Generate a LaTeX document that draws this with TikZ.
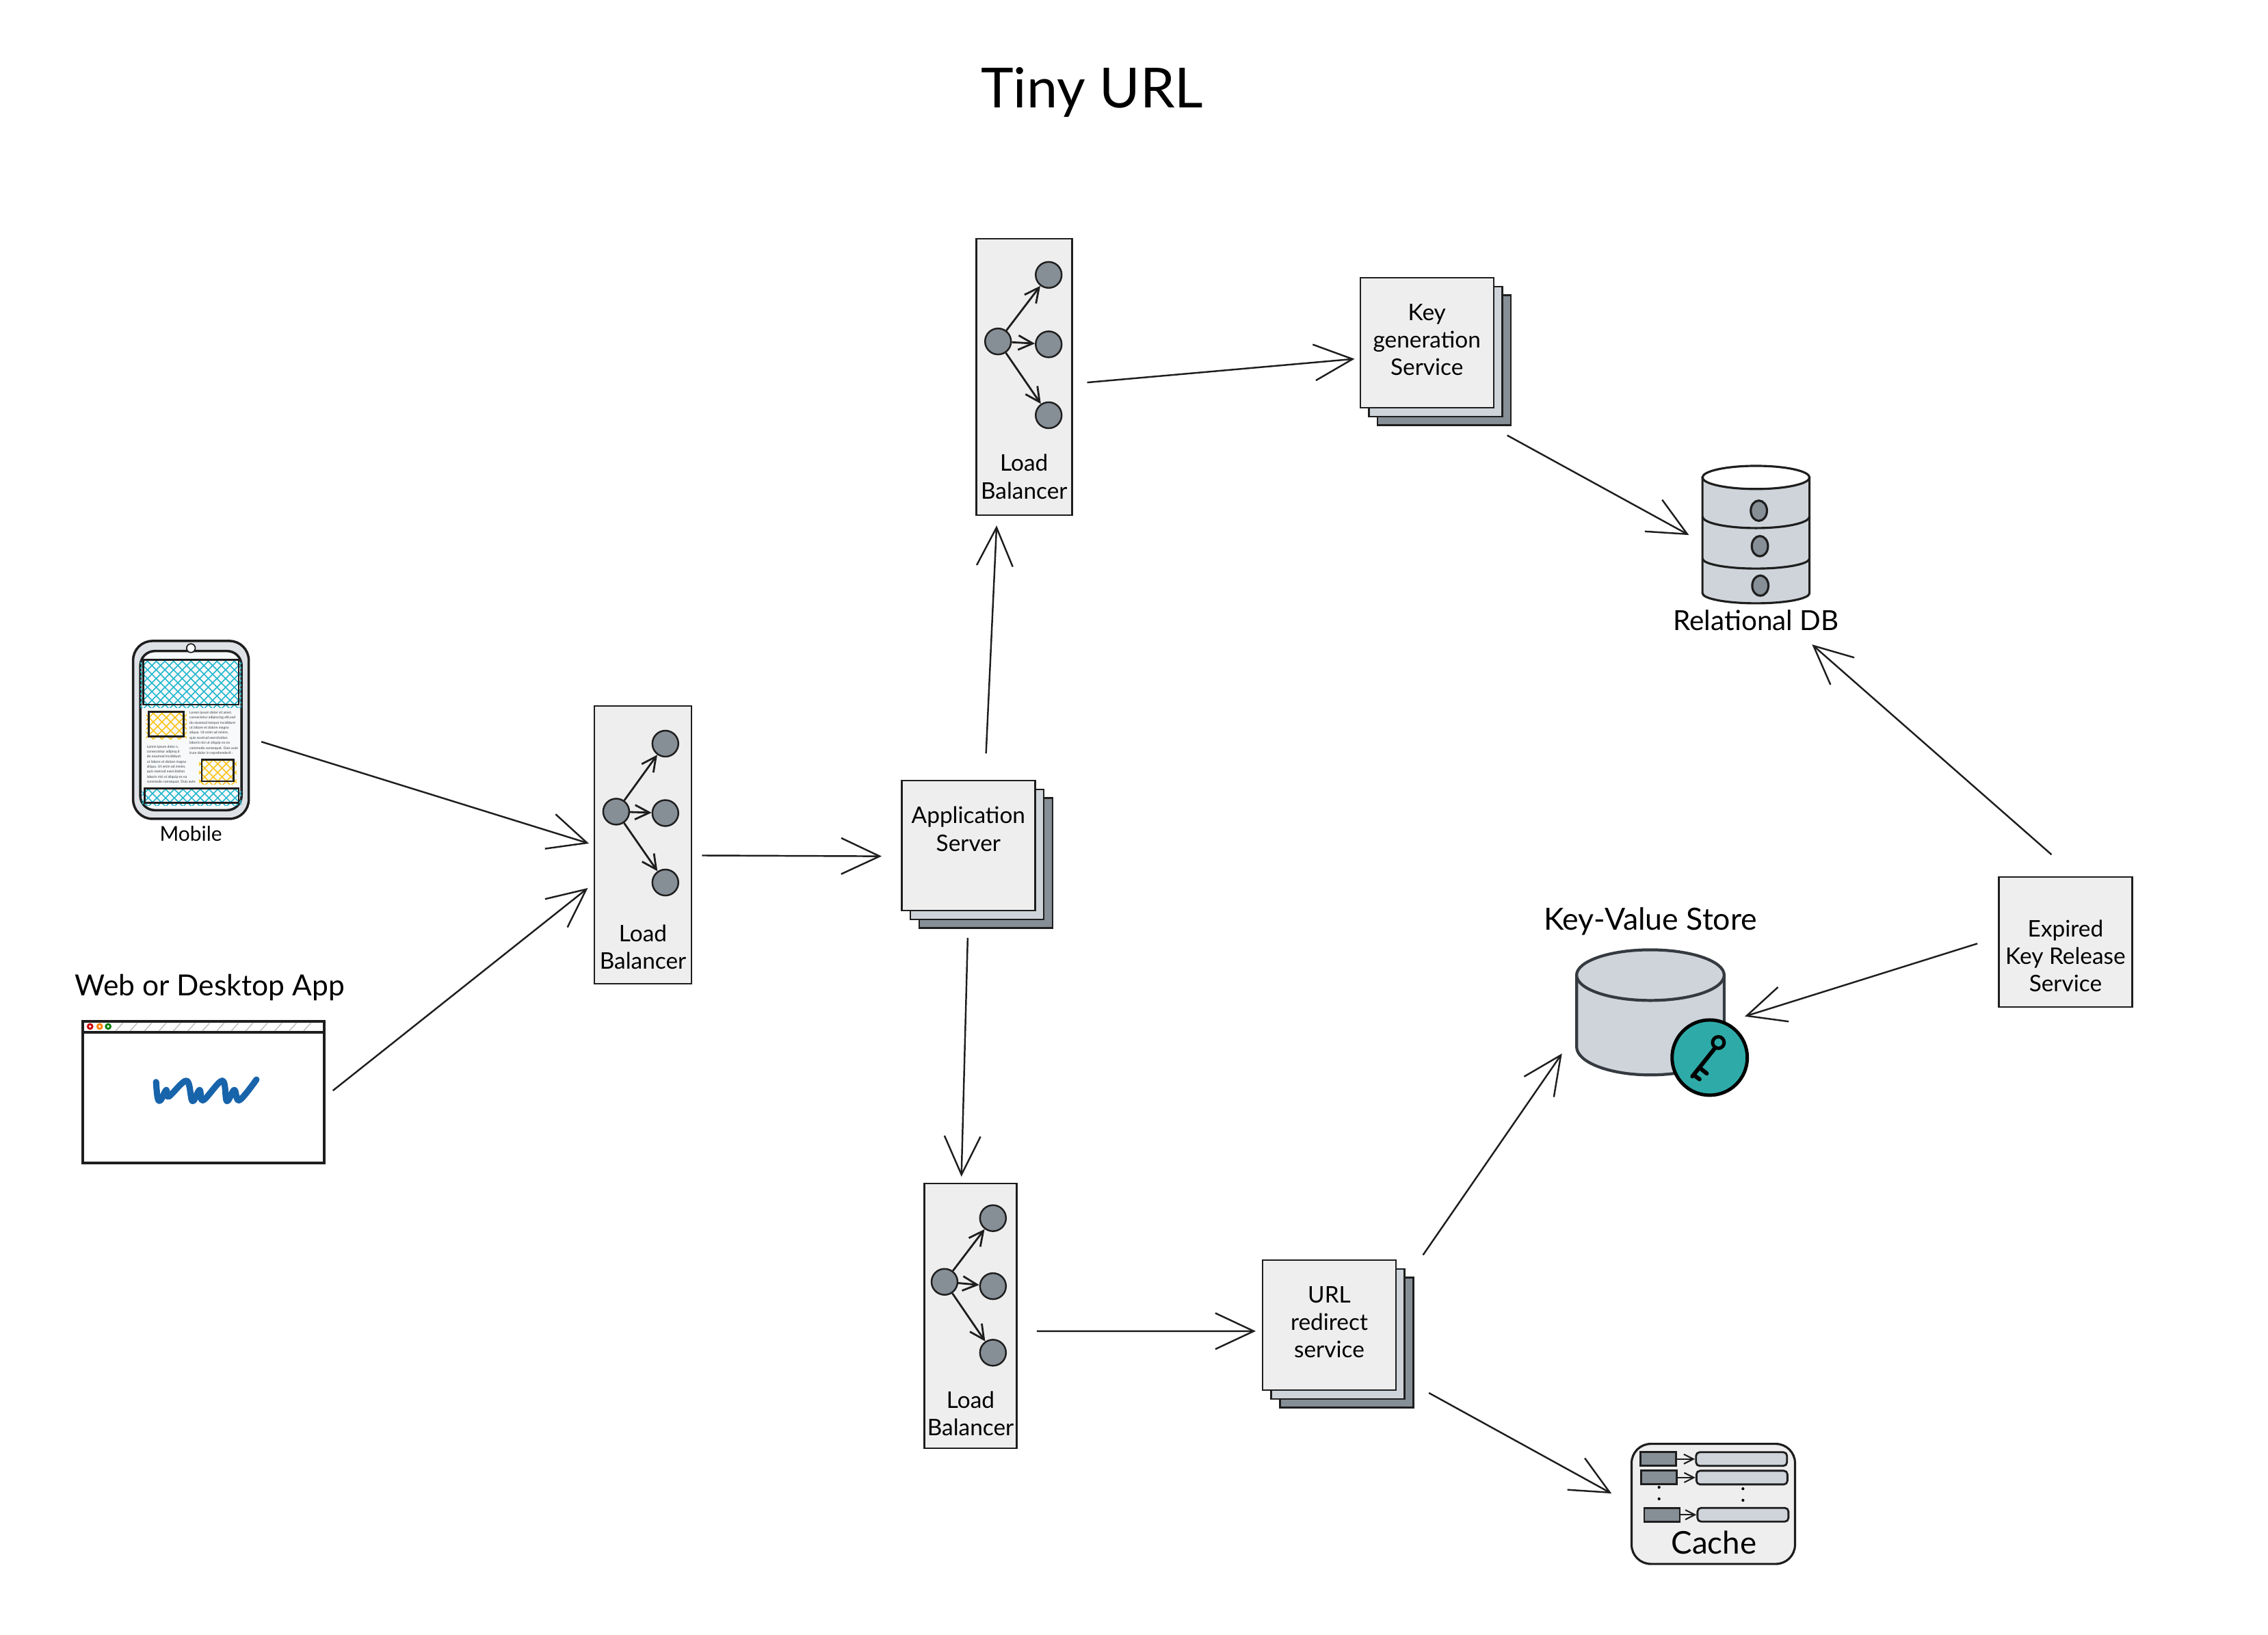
\documentclass[tikz,border=0pt]{standalone}
\usepackage{fontspec}
\usepackage{tikz}
\usetikzlibrary{arrows.meta}
\setmainfont{Lato}
\definecolor{paper}{HTML}{EEEEEE}
\definecolor{midgray}{HTML}{CED4DA}
\definecolor{lightgray}{HTML}{DEE2E6}
\definecolor{screen}{HTML}{F8F9FA}
\definecolor{darkgray}{HTML}{868E96}
\definecolor{ink}{HTML}{1E1E1E}
\definecolor{slate}{HTML}{343A40}
\definecolor{hatchblue}{HTML}{22B8CF}
\definecolor{hatchorange}{HTML}{FCC419}
\definecolor{teal}{HTML}{2EABA8}
\definecolor{wwwblue}{HTML}{1864AB}
\begin{document}
\begin{tikzpicture}[x=0.02115cm,y=-0.02115cm,
  line width=0.7pt,draw=ink,
  flow/.style={draw=ink,line width=0.7pt,-{Straight Barb[length=16pt,width=15pt]}},
  small/.style={draw=ink,line width=0.8pt,-{Straight Barb[length=6pt,width=6pt]}},
  strip/.style={draw,fill=paper,inner sep=0pt},
  hub/.style={draw,circle,fill=darkgray,minimum size=0.38cm,inner sep=0pt},
  pagefront/.style={draw,fill=paper,minimum width=1.95cm,minimum height=1.9cm,inner sep=0pt,align=center,text depth=2.5pt,font=\fontsize{9.5}{11.4}\selectfont},
  pagemid/.style={draw,fill=midgray,minimum width=1.95cm,minimum height=1.9cm,inner sep=0pt},
  pageback/.style={draw,fill=darkgray,minimum width=1.95cm,minimum height=1.9cm,inner sep=0pt},
  caption/.style={inner sep=0pt},
  tiny/.style={inner sep=0pt,align=left,text=slate,font=\fontsize{1.45}{2.1}\selectfont}]
  \useasboundingbox (0,0) rectangle (1568,1129.7);

  \node (title) at (755,64) {\fontsize{23}{27}\selectfont Tiny URL};

  \foreach \lb/\cx/\cy/\w/\h/\hx/\hy/\lx/\ya/\yb/\yc/\ty in {
      lbleft/444.5/584/1.42/4.06/426/561/460/514/562/610/654.5,
      lbtop/708/260.5/1.4/4.04/690/236/725/190/238/287/329.5,
      lbbottom/671/909.5/1.35/3.87/653/886/686.5/842/889/935/977}{
    \node[strip,minimum width=\w cm,minimum height=\h cm] (\lb) at (\cx,\cy) {};
    \node[hub] (\lb hub) at (\hx,\hy) {};
    \node[hub] (\lb a) at (\lx,\ya) {};
    \node[hub] (\lb b) at (\lx,\yb) {};
    \node[hub] (\lb c) at (\lx,\yc) {};
    \draw[small] (\lb hub) -- (\lb a);
    \draw[small] (\lb hub) -- (\lb b);
    \draw[small] (\lb hub) -- (\lb c);
    \node[inner sep=0pt,align=center,font=\fontsize{9.5}{11.4}\selectfont] (\lb text) at (\cx,\ty) {Load\\Balancer};
  }

  \foreach \st/\x/\y/\txt in {
      app/669.5/584.5/{Application\\Server\\~},
      keygen/986.5/237/{Key\\generation\\Service},
      urlredirect/919/916/{URL\\redirect\\service}}{
    \node[pageback] (\st back) at (\x+12,\y+12) {};
    \node[pagemid] (\st mid) at (\x+6,\y+6) {};
    \node[pagefront] (\st) at (\x,\y) {\txt};
  }
  \node[pagefront,text depth=0pt] (expired) at (1428,651) {~\\[7.2pt]Expired\\Key Release\\Service};

  \node[draw,line width=1pt,rounded corners=8pt,fill=lightgray,minimum width=1.69cm,minimum height=2.6cm,inner sep=0pt] (mobile) at (132,504.5) {};
  \draw[line width=1pt,rounded corners=6pt,fill=screen] (97,450) rectangle (167,560);
  \foreach \xa/\ya/\xb/\yb/\col in {
      99/456/165/487/hatchblue,
      103/492/127/509/hatchorange,
      139.5/525/161.5/540/hatchorange,
      100/545/165/555/hatchblue}{
    \begin{scope}
      \clip (\xa-2,\ya-2) rectangle (\xb+2,\yb+2);
      \foreach \i in {-70,-64,...,70}{
        \draw[\col,line width=0.45pt] (\xa+\i,\ya) -- ++(70,70);
        \draw[\col,line width=0.45pt] (\xb-\i,\ya) -- ++(-70,70);
      }
    \end{scope}
    \draw[line width=0.8pt] (\xa,\ya) rectangle (\xb,\yb);
  }
  \draw[line width=0.5pt,fill=white] (132,448) circle (3);
  \node[tiny,anchor=north west] (loremright) at (130.5,491) {Lorem ipsum dolor sit amet,\\consectetur adipiscing elit,sed\\do eiusmod tempor incididunt\\ut labore et dolore magna\\aliqua. Ut enim ad minim,\\quis nostrud exercitation\\laboris nisi ut aliquip ex ea\\commodo consequat. Duis aute\\irure dolor in reprehenderit :};
  \node[tiny,anchor=north west] (loremleft) at (101,514.5) {Lorem ipsum dolor s,\\consectetur adipisq d\\do eiusmod incididunt\\ut labore et dolore magna\\aliqua. Ut enim ad minim,\\quis nostrud exercitation\\laboris nisi ut aliquip ex ea\\commodo consequat. Duis aute};
  \node[inner sep=0pt,font=\fontsize{8.5}{10}\selectfont] (mobilelabel) at (132,576) {Mobile};

  \node[caption,font=\fontsize{12.1}{14}\selectfont] (weblabel) at (145,682.5) {Web or Desktop App};
  \node[draw,line width=1.2pt,fill=white,minimum width=3.53cm,minimum height=2.07cm,inner sep=0pt] (web) at (140.5,755) {};
  \foreach \x in {80,90,...,215}{
    \draw[black!25,line width=0.4pt] (\x,712.5) -- (\x+5,707);
  }
  \draw[line width=1.2pt] (57,713.5) -- (224,713.5);
  \foreach \x/\col in {62.3/red!80!black,68.9/orange,74.8/green!50!black}{
    \draw[\col,line width=0.8pt,fill=white] (\x,709.5) circle (1.6);
  }
  \draw[wwwblue,line width=2.6pt,line cap=round,line join=round] plot[smooth,tension=0.6] coordinates {
    (107.9,747.9) (109,758.9) (111,760.5) (115,753.4) (116.6,758) (129,747) (133,761) (138,753.4)
    (140.5,760.5) (153.7,747) (156.8,761) (162,753.4) (165.5,760.5) (177.3,746.2)};

  \node[minimum width=1.565cm,minimum height=1.96cm,inner sep=0pt] (db) at (1214,370) {};
  \draw[line width=0.9pt,fill=midgray] (1177,330) -- (1177,410) arc[start angle=180,end angle=0,x radius=37,y radius=7] -- (1251,330) -- cycle;
  \draw[line width=0.9pt,fill=white] (1214,330) ellipse [x radius=37,y radius=8];
  \draw[line width=0.9pt] (1177,357) arc[start angle=180,end angle=0,x radius=37,y radius=8];
  \draw[line width=0.9pt] (1177,386) arc[start angle=180,end angle=0,x radius=37,y radius=7];
  \foreach \y/\x in {353/1216,377.5/1216.7,404.8/1217}{
    \draw[line width=0.9pt,fill=darkgray] (\x,\y) ellipse [x radius=5.6,y radius=7];
  }
  \node[caption,font=\fontsize{11.5}{13}\selectfont] (dblabel) at (1214,429) {Relational DB};

  \node[caption,font=\fontsize{12.7}{15}\selectfont] (kvlabel) at (1141,637) {Key-Value Store};
  \node[minimum width=2.22cm,minimum height=1.82cm,inner sep=0pt] (kv) at (1140.5,700) {};
  \draw[draw=slate,line width=1.2pt,fill=midgray] (1090,674) -- (1090,723.5) arc[start angle=180,end angle=0,x radius=51,y radius=19.5] -- (1192,674) -- cycle;
  \draw[draw=slate,line width=1.2pt,fill=midgray] (1141,674) ellipse [x radius=51,y radius=17.5];
  \node[draw=black,line width=1.4pt,circle,fill=teal,minimum size=1.1cm,inner sep=0pt] (kvbadge) at (1182,731) {};
  \draw[black,line width=1.4pt] (1188,720.6) circle (4);
  \draw[black,line width=1.7pt,line cap=round] (1186,724) -- (1170,744) (1175,738) -- (1180,742) (1171,743) -- (1175,746);

  \node[draw,line width=0.9pt,rounded corners=8pt,fill=paper,minimum width=2.39cm,minimum height=1.755cm,inner sep=0pt] (cache) at (1184.5,1039.5) {};
  \foreach \row/\y/\kx/\vx in {a/1008.5/1146.5/1204,b/1021.3/1147/1204.3,c/1047/1149/1205}{
    \node[draw,line width=0.8pt,fill=darkgray,minimum width=0.52cm,minimum height=0.2cm,inner sep=0pt] (cachekey\row) at (\kx,\y) {};
    \node[draw,line width=0.8pt,fill=midgray,rounded corners=1.5pt,minimum width=1.33cm,minimum height=0.2cm,inner sep=0pt] (cacheval\row) at (\vx,\y) {};
    \draw[small,-{Straight Barb[length=4pt,width=4pt]},line width=0.6pt] (cachekey\row) -- (cacheval\row);
  }
  \fill[black] (1147,1028) circle (1) (1147,1036) circle (1) (1205,1029) circle (1) (1205,1037) circle (1);
  \node[inner sep=0pt,font=\fontsize{13}{15}\selectfont] (cachelabel) at (1185,1066) {Cache};

  \draw[flow,shorten <=5pt,shorten >=2pt] (mobile.-8) -- (lbleft.west);
  \draw[flow,shorten <=4pt,shorten >=3pt] (web.-2) -- (lbleft.218);
  \draw[flow,shorten <=4pt,shorten >=8pt] (lbleft.-12) -- (app.189);
  \draw[flow,shorten <=11pt,shorten >=4pt] (app.76) -- (lbtop.259);
  \draw[flow,shorten <=11pt,shorten >=2.5pt] (app.south) -- (lbbottom.94);
  \draw[flow,shorten <=6pt,shorten >=2pt] (lbtop.-8) -- (keygen.193);
  \draw[flow,shorten <=8pt,shorten >=6pt] (keygenback.-55) -- (db.187);
  \draw[flow,shorten <=8pt,shorten >=2.5pt] (lbbottom.-18) -- (urlredirect.185);
  \draw[flow,shorten <=11pt,shorten >=8pt] (urlredirectback.47) -- (kv.198);
  \draw[flow,shorten <=7pt,shorten >=9pt] (urlredirectback.-32) -- (cache.west);
  \draw[flow,shorten <=13.5pt,shorten >=8pt] (expired.81) -- (dblabel.-15);
  \draw[flow,shorten <=9pt,shorten >=8pt] (expired.176) -- (kv.-7);
\end{tikzpicture}
\end{document}
